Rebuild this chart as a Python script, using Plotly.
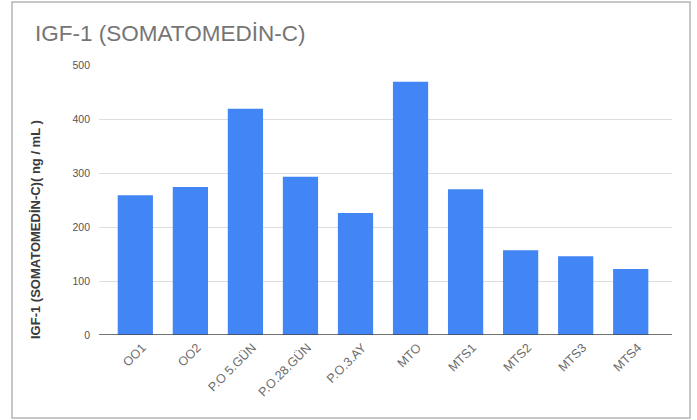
import plotly.graph_objects as go

categories = ["OO1", "OO2", "P.O 5.GÜN", "P.O.28.GÜN", "P.O.3.AY", "MTO", "MTS1", "MTS2", "MTS3", "MTS4"]
values = [259, 274, 419, 293, 226, 469, 270, 157, 146, 122]
y_ticks = [0, 100, 200, 300, 400, 500]

W, H = 697, 420
L, R, T, B = 99, 25, 65, 85
pw, ph = W - L - R, H - T - B

def px_to_paper_x(px):
    return (px - L) / pw

def px_to_paper_y(py):
    return (H - B - py) / ph

fig = go.Figure(go.Bar(
    x=categories, y=values,
    marker=dict(color="#4285F4", line=dict(width=0)),
))

fig.update_layout(
    width=W, height=H,
    margin=dict(l=L, r=R, t=T, b=B),
    paper_bgcolor="white", plot_bgcolor="white",
    bargap=0.36,
    showlegend=False,
    font=dict(family="Arial, Liberation Sans, sans-serif", color="#444"),
    title=dict(text="IGF-1 (SOMATOMEDİN-C)", x=35 / W, xref="container",
               y=1 - 33 / H, yref="container", yanchor="middle", xanchor="left",
               font=dict(size=22.5, color="#757575")),
    xaxis=dict(tickangle=-45, tickfont=dict(size=12.5, color="#6a6a6a"),
               range=[-0.66, 9.75], ticklabelshift=7, ticklabelstandoff=2,
               showgrid=False, showline=False, ticks="", zeroline=False),
    yaxis=dict(range=[0, 500], tickvals=y_ticks, tickfont=dict(size=10.5, color="#555"),
               showgrid=True, gridcolor="#dddddd", gridwidth=1, zeroline=False,
               showline=False, ticks="", ticklabelstandoff=8),
    annotations=[
        dict(text="<b>IGF-1 (SOMATOMEDİN-C)( ng / mL )</b>", textangle=-90,
             xref="paper", yref="paper", x=px_to_paper_x(35), y=px_to_paper_y(230),
             xanchor="center", yanchor="middle", showarrow=False,
             font=dict(size=13, color="#3a3a3a")),
    ],
    shapes=[
        dict(type="line", xref="paper", yref="y", x0=0, x1=1, y0=0, y1=0,
             line=dict(color="#444", width=1.5)),
        dict(type="rect", xref="paper", yref="paper",
             x0=px_to_paper_x(12), x1=px_to_paper_x(690),
             y0=px_to_paper_y(418), y1=px_to_paper_y(2),
             line=dict(color="#b5b5b5", width=1.5), fillcolor="rgba(0,0,0,0)", layer="below"),
    ],
)

fig.write_html("out.html", config={"displayModeBar": False},
               post_script="document.body.style.margin='0';document.body.style.overflow='hidden';")
